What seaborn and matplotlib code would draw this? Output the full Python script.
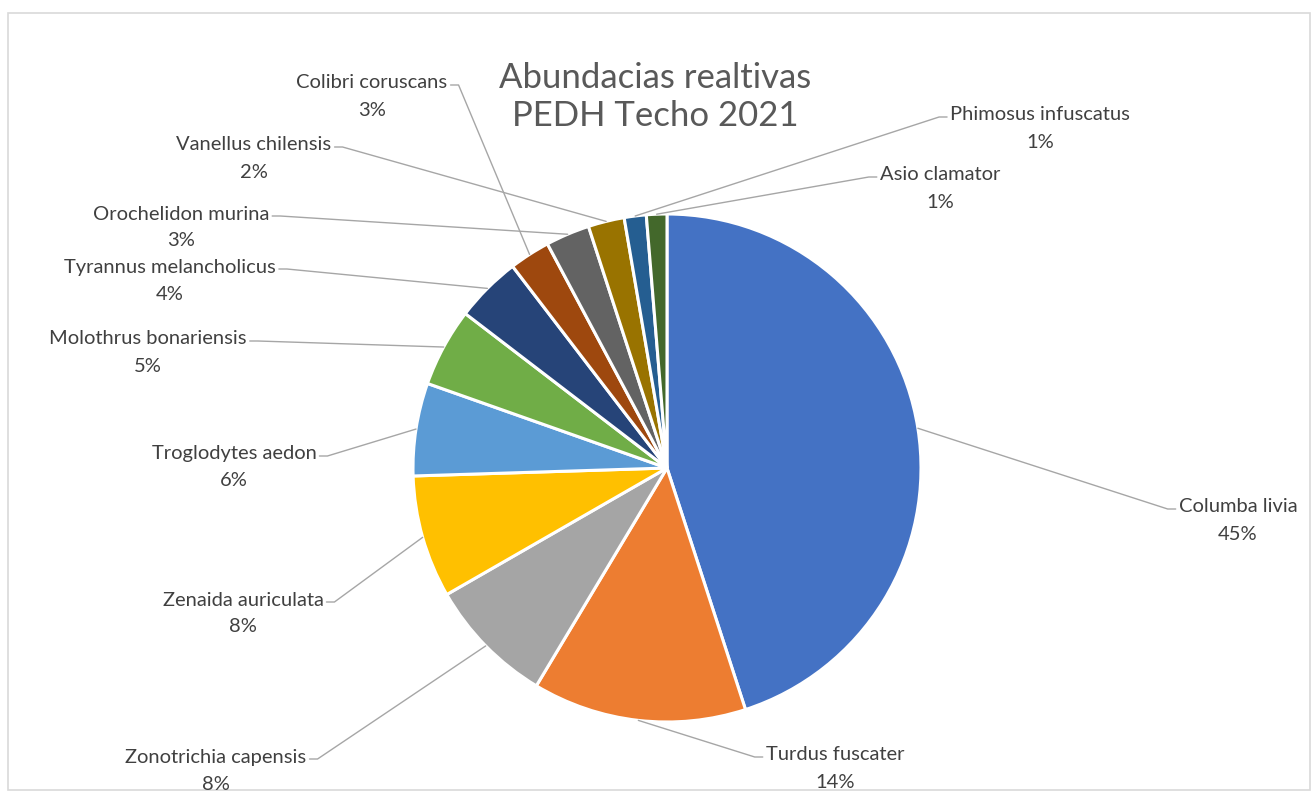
import numpy as np
import matplotlib
matplotlib.use("Agg")
import matplotlib.pyplot as plt
import seaborn as sns
from matplotlib.patches import Rectangle

# --- Data ---
species = [
    "Columba livia", "Turdus fuscater", "Zonotrichia capensis", "Zenaida auriculata",
    "Troglodytes aedon", "Molothrus bonariensis", "Tyrannus melancholicus",
    "Colibri coruscans", "Orochelidon murina", "Vanellus chilensis",
    "Phimosus infuscatus", "Asio clamator",
]
abundance = [45.0, 13.6, 8.1, 7.8, 5.9, 5.0, 4.2, 2.6, 2.8, 2.3, 1.4, 1.3]
title_lines = ["Abundacias realtivas", "PEDH Techo 2021"]

# Office palette (Excel default)
colors = ["#4472C4", "#ED7D31", "#A5A5A5", "#FFC000", "#5B9BD5", "#70AD47",
          "#264478", "#9E480E", "#636363", "#997300", "#255E91", "#43682B"]

# label anchor positions in pixels (x center, y of the name line, from top), side of the leader
label_pos = {
    "Columba livia": (1238, 507, "r"),
    "Turdus fuscater": (835, 755, "r"),
    "Zonotrichia capensis": (216, 757, "l"),
    "Zenaida auriculata": (243, 600, "l"),
    "Troglodytes aedon": (234, 454, "l"),
    "Molothrus bonariensis": (148, 339, "l"),
    "Tyrannus melancholicus": (170, 267, "l"),
    "Colibri coruscans": (372, 83, "l"),
    "Orochelidon murina": (181, 214, "l"),
    "Vanellus chilensis": (254, 145, "l"),
    "Phimosus infuscatus": (1040, 115, "r"),
    "Asio clamator": (940, 175, "r"),
}

W, H = 1312, 795
sns.set_theme(style="white")
plt.rcParams['font.family'] = ['Lato', 'DejaVu Sans']

fig = plt.figure(figsize=(W / 100, H / 100), dpi=100)
ax = fig.add_axes([0, 0, 1, 1])

cx, cy, R = 667, H - 468, 254
wedges, _ = ax.pie(abundance, colors=colors, startangle=90, counterclock=False,
                   center=(cx, cy), radius=R, frame=True,
                   wedgeprops=dict(edgecolor="white", linewidth=2.2))
ax.set_xlim(0, W)
ax.set_ylim(0, H)
ax.axis("off")

renderer = fig.canvas.get_renderer()

# labels with leader lines
for w, name, val in zip(wedges, species, abundance):
    x, ytop, side = label_pos[name]
    y = H - ytop
    t1 = ax.text(x, y, name, ha="center", va="center", fontsize=14.5, color="#404040")
    ax.text(x, y - 27, f"{round(val)}%", ha="center", va="center", fontsize=14.5, color="#404040")
    half = t1.get_window_extent(renderer=renderer).width / 2
    mid = np.deg2rad((w.theta1 + w.theta2) / 2)
    ex, ey = cx + R * np.cos(mid), cy + R * np.sin(mid)
    if side == "l":
        sx = x + half + 3
        ax.plot([sx, sx + 8, ex], [y - 2, y - 2, ey], color="#a6a6a6", lw=1)
    else:
        sx = x - half - 3
        ax.plot([sx, sx - 8, ex], [y - 2, y - 2, ey], color="#a6a6a6", lw=1)

ax.text(655, H - 78, title_lines[0], ha="center", va="center", fontsize=25, color="#595959")
ax.text(655, H - 116, title_lines[1], ha="center", va="center", fontsize=25, color="#595959")

# chart frame like the Excel selection border
ax.add_patch(Rectangle((8, H - 790), 1302, 777, fill=False, edgecolor="#d9d9d9", lw=1.2))

fig.savefig("out.png", dpi=100, facecolor="white")
